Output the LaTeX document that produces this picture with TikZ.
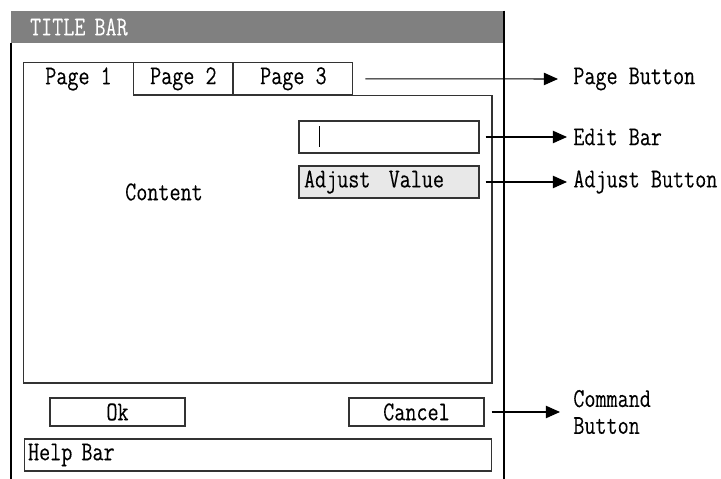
\documentclass[tikz,border=0pt]{standalone}
\usepackage{fontspec}
\setmonofont[FakeStretch=0.79, FakeBold=0.1]{Latin Modern Mono}
\usetikzlibrary{arrows.meta}
\begin{document}
\begin{tikzpicture}[x=0.02cm, y=-0.02cm,
  every node/.style={font=\fontsize{15.5}{15.3}\selectfont\ttfamily},
  box/.style={draw=black!80, line width=0.6pt, minimum height=0.64cm, inner sep=0pt},
  frame/.style={line width=1.1pt},
  callout/.style={-{Triangle[length=8pt,width=7pt]}, line width=0.6pt}]
\useasboundingbox (0,0) rectangle (721,479);
\node[fill=black!50, text=white, minimum width=9.86cm, minimum height=0.64cm, inner xsep=0.38cm, inner ysep=0pt, text width=9.1cm, align=left] (title) at (257.5,27) {TITLE BAR};
\draw[frame] (title.south west) -- ++(0,436);
\draw[frame] (title.north east) -- ++(0,468);
\node[minimum width=2.18cm, minimum height=0.64cm, inner sep=0pt] (tab1) at (78.5,79) {Page 1};
\node[box, minimum width=1.98cm, anchor=south west] (tab2) at (tab1.south east) {Page 2};
\node[box, minimum width=2.38cm, anchor=south west] (tab3) at (tab2.south east) {Page 3};
\coordinate (panel) at (492,383);
\draw[black!80, line width=0.6pt] (tab1.south west) |- (tab1.north east) -- (tab1.south east) -| (panel) -| (tab1.south west);
\node (content) at (164,192) {Content};
\node[box, minimum width=3.6cm] (edit) at (389,137) {};
\draw[line width=0.6pt] ([xshift=0.42cm, yshift=0.21cm]edit.west) -- ([xshift=0.42cm, yshift=-0.21cm]edit.west);
\node[box, fill=black!9, minimum width=3.6cm, inner xsep=0.1cm, text width=3.4cm, align=left] (adjust) at (389,182) {Adjust\ \ Value};
\node[box, minimum width=2.7cm, minimum height=0.56cm] (ok) at (117.5,412) {Ok};
\node[box, minimum width=2.7cm, minimum height=0.56cm] (cancel) at (416.5,412) {Cancel};
\node[box, minimum width=9.36cm, inner xsep=0.08cm, text width=9.2cm, align=left] (help) at (258,455) {Help Bar};
\node[anchor=west, inner sep=0pt] (pagelbl) at (573,79) {Page Button};
\node[anchor=west, inner sep=0pt] (editlbl) at (573,137) {Edit Bar};
\node[anchor=west, inner sep=0pt] (adjlbl) at (573,182) {Adjust Button};
\node[anchor=west, inner sep=0pt, align=left] (cmdlbl) at (573,412) {Command\\Button};
\draw[callout] ([xshift=0.24cm]tab3.east) -- ([xshift=-0.3cm]pagelbl.west);
\draw[callout] ([xshift=0.12cm]edit.east) -- ([xshift=-0.12cm]editlbl.west);
\draw[callout] ([xshift=0.12cm]adjust.east) -- ([xshift=-0.12cm]adjlbl.west);
\draw[callout] ([xshift=0.14cm]cancel.east) -- ([xshift=-0.26cm]cmdlbl.west);
\end{tikzpicture}
\end{document}
